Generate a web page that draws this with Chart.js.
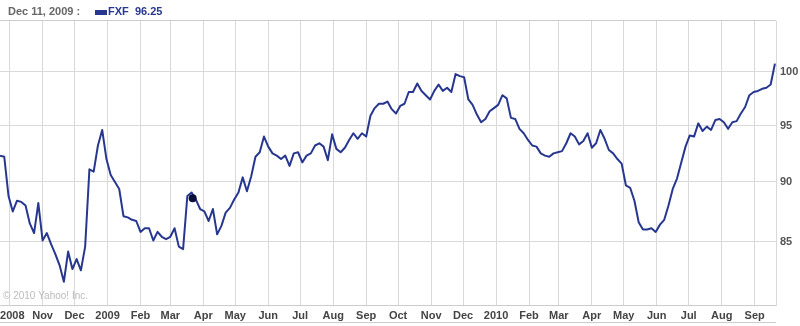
<!DOCTYPE html>
<html>
<head>
<meta charset="utf-8">
<script src="https://cdn.jsdelivr.net/npm/chart.js@4.4.1/dist/chart.umd.min.js"></script>
<style>
    html, body { margin: 0; padding: 0; background: #fff; }
    #wrap { width: 800px; height: 326px; }
</style>
</head>
<body>
<div id="wrap"><canvas id="fxfChart" width="800" height="326"></canvas></div>
<script>
// FXF closes, one reading every 4 calendar days from the start date
const startDate = "2008-09-22";
const endDate = "2010-09-21";
const stepDays = 4;
const closes = [
    92.3, 92.2, 88.8, 87.5, 88.4, 88.3, 88.0, 86.5, 85.7, 88.2,
    85.1, 85.7, 84.8, 84.0, 83.1, 81.8, 84.2, 82.8, 83.6, 82.7,
    84.6, 91.1, 90.9, 93.2, 94.6, 92.0, 90.6, 90.0, 89.4, 87.1,
    87.0, 86.8, 86.7, 85.8, 86.1, 86.1, 85.1, 85.8, 85.4, 85.2,
    85.4, 86.1, 84.6, 84.4, 88.8, 89.1, 88.5, 87.7,
    87.5, 86.7, 87.7, 85.6, 86.3, 87.4, 87.8, 88.5, 89.1, 90.4,
    89.2, 90.5, 92.2, 92.6, 94.0, 93.1, 92.5, 92.3, 92.0, 92.3,
    91.4, 92.5, 92.6, 91.7, 92.3, 92.5, 93.2, 93.4, 93.1, 91.9,
    94.2, 92.9, 92.6, 93.0, 93.7, 94.3, 93.8, 94.3, 94.0, 95.9,
    96.6, 97.0, 97.0, 97.2, 96.5, 96.1,
    96.8, 97.0, 98.1, 98.1, 98.9, 98.2, 97.8, 97.4, 98.2, 98.8,
    98.2, 98.5, 98.1, 99.8, 99.6, 99.5, 97.4, 96.9, 96.0, 95.3,
    95.6, 96.3, 96.6, 96.9, 97.8, 97.5, 95.7, 95.6, 94.7, 94.3,
    93.7, 93.2, 93.1, 92.5, 92.3, 92.2, 92.5, 92.6, 92.7, 93.4,
    94.3, 94.0, 93.3, 93.6, 94.3,
    93.0, 93.4, 94.6, 93.8, 92.8, 92.5, 92.0, 91.6, 89.7, 89.5,
    88.4, 86.6, 86.0, 86.0, 86.1, 85.8, 86.4, 86.8, 88.0, 89.4,
    90.3, 91.7, 93.1, 94.1, 94.0, 95.2, 94.5, 94.9, 94.6, 95.5,
    95.6, 95.3, 94.7, 95.3, 95.4, 96.1, 96.7, 97.8, 98.1, 98.2,
    98.4, 98.5, 98.8, 100.8
];
const tickDates = [
    "2008-10-01", "2008-11-01", "2008-12-01",
    "2009-01-01", "2009-02-01", "2009-03-01", "2009-04-01", "2009-05-01", "2009-06-01",
    "2009-07-01", "2009-08-01", "2009-09-01", "2009-10-01", "2009-11-01", "2009-12-01",
    "2010-01-01", "2010-02-01", "2010-03-01", "2010-04-01", "2010-05-01", "2010-06-01",
    "2010-07-01", "2010-08-01", "2010-09-01"
];
const tickLabels = [
    "2008", "Nov", "Dec",
    "2009", "Feb", "Mar", "Apr", "May", "Jun", "Jul", "Aug", "Sep", "Oct", "Nov", "Dec",
    "2010", "Feb", "Mar", "Apr", "May", "Jun", "Jul", "Aug", "Sep"
];
const yTicks = [85, 90, 95, 100];
const markerDate = "2009-03-22";
const markerValue = 88.6;
const headerDate = "Dec 11, 2009 :";
const headerSymbol = "FXF";
const headerValue = "96.25";

const lineColor = "#27378f";
const gridColor = "#d9d9d9";
const labelFont = { family: "Liberation Sans", size: 11, weight: "bold" };

function dayOf(s) {
    return (Date.parse(s) - Date.parse(startDate)) / 86400000;
}

const points = closes.map((v, i) => ({ x: i * stepDays, y: v }));
const tickPos = tickDates.map(dayOf);

// header line, legend text, bottom band and copyright
const framePlugin = {
    id: "frame",
    beforeDraw(chart) {
        const ctx = chart.ctx;
        const a = chart.chartArea;
        ctx.save();
        ctx.fillStyle = "#fff";
        ctx.fillRect(0, 0, chart.width, chart.height);
        ctx.strokeStyle = "#cccccc";
        ctx.lineWidth = 1;
        ctx.beginPath();
        ctx.moveTo(0, a.top - 0.5);
        ctx.lineTo(a.right, a.top - 0.5);
        ctx.moveTo(0, a.bottom + 17.5);
        ctx.lineTo(a.right, a.bottom + 17.5);
        ctx.stroke();

        ctx.font = "bold 11px 'Liberation Sans'";
        ctx.textBaseline = "middle";
        ctx.fillStyle = "#666";
        ctx.fillText(headerDate, 8, 12);
        ctx.fillStyle = lineColor;
        ctx.fillRect(95, 10, 12, 5);
        ctx.fillText(headerSymbol + "  " + headerValue, 108, 12);
        ctx.restore();
    },
    beforeDatasetsDraw(chart) {
        const ctx = chart.ctx;
        const a = chart.chartArea;
        ctx.save();
        ctx.font = "10px 'Liberation Sans'";
        ctx.fillStyle = "#bbbbbb";
        ctx.textBaseline = "middle";
        ctx.fillText("\u00a9 2010 Yahoo! Inc.", 3, a.bottom - 9);
        ctx.restore();
    }
};

new Chart(document.getElementById("fxfChart"), {
    type: "scatter",
    data: {
        datasets: [{
            data: [{ x: dayOf(markerDate), y: markerValue }],
            pointRadius: 4,
            backgroundColor: "#0a0f3a",
            borderWidth: 0,
            order: 0
        }, {
            data: points,
            showLine: true,
            borderColor: lineColor,
            borderWidth: 2,
            pointRadius: 0,
            tension: 0,
            borderJoinStyle: "round",
            order: 1
        }]
    },
    options: {
        responsive: false,
        animation: false,
        devicePixelRatio: 1,
        layout: { autoPadding: false, padding: { top: 21, left: 0, right: 0, bottom: 0 } },
        plugins: { legend: { display: false }, tooltip: { enabled: false } },
        scales: {
            x: {
                type: "linear",
                position: "bottom",
                min: 0,
                max: dayOf(endDate),
                afterBuildTicks: s => { s.ticks = tickPos.map(v => ({ value: v })); },
                afterFit: s => { s.height = 21; s.paddingLeft = 0; s.paddingRight = 0; },
                ticks: {
                    autoSkip: false,
                    maxRotation: 0,
                    padding: 4,
                    color: "#444",
                    font: labelFont,
                    // first label sits at the left edge, nudge it inside
                    callback: (v, i) => (i === 0 ? "\u2002" : "") + tickLabels[i]
                },
                grid: { color: gridColor, drawTicks: false },
                border: { color: "#cccccc" }
            },
            y: {
                type: "logarithmic",
                position: "right",
                min: 80,
                max: 105,
                afterBuildTicks: s => { s.ticks = yTicks.map(v => ({ value: v })); },
                afterFit: s => { s.width = 24; },
                ticks: {
                    padding: 4,
                    color: "#555",
                    font: labelFont,
                    callback: v => String(v)
                },
                grid: { color: gridColor, drawTicks: false },
                border: { color: gridColor }
            }
        }
    },
    plugins: [framePlugin]
});
</script>
</body>
</html>
